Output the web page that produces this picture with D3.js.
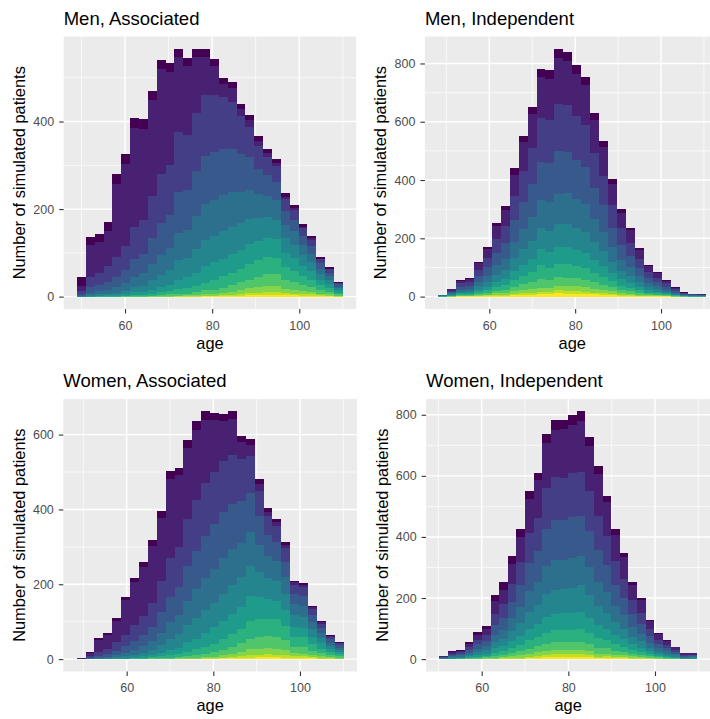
<!DOCTYPE html>
<html>
<head>
<meta charset="utf-8">
<script src="https://cdn.jsdelivr.net/npm/d3@7"></script>
<style>
  body { margin: 0; background: #ffffff; }
  svg { display: block; }
  text { font-family: "Liberation Sans", Arial, sans-serif; }
</style>
</head>
<body>
<svg id="chart" width="710" height="719"></svg>
<script>
// ---------------- DATA ----------------
// stacked groups, group 1 drawn on top, group 12 at the bottom
const groups = ["1","2","3","4","5","6","7","8","9","10","11","12"];
const panelTitles = ["Men, Associated", "Men, Independent", "Women, Associated", "Women, Independent"];
// histogram bins: 30 bins per panel, first bin left edge and bin width (years of age)
const binStarts = [48.98, 48.12, 48.46, 50.15];
const binWidths = [2.0345, 2.081, 2.054, 1.987];
const xTickValues = [60, 80, 100];
const yTickValues = [[0, 200, 400], [0, 200, 400, 600, 800], [0, 200, 400, 600], [0, 200, 400, 600, 800]];

// counts per group (rows = groups 1..12, columns = 30 age bins)
const menAssociated = [
  [20,18,18,20,22,22,22,22,20,20,20,19,19,19,18,16,15,14,12,11,10,9,9,8,7,6,5,4,3,2],
  [12,73,70,80,168,189,226,208,219,240,214,172,157,127,88,66,30,31,16,15,12,9,8,6,5,4,3,2,2,1],
  [7,24,29,36,45,55,74,77,97,112,114,135,126,134,138,129,118,107,87,70,52,42,36,27,22,17,14,9,7,3],
  [3,12,14,18,23,30,41,45,59,73,75,94,92,101,110,110,105,98,86,74,58,48,41,31,27,22,18,12,8,5],
  [1,5,7,10,13,17,24,28,37,45,51,63,63,76,83,83,82,80,70,66,55,48,45,31,30,23,20,13,10,4],
  [1,3,3,3,5,7,11,14,21,28,33,45,45,54,60,60,64,62,62,58,52,48,45,33,30,24,20,13,9,5],
  [0,1,1,2,3,4,7,7,9,12,15,21,25,30,37,41,40,45,45,46,44,44,42,33,30,23,19,12,9,5],
  [0,0,1,1,1,1,1,2,5,7,7,10,12,14,18,21,26,26,29,35,38,39,38,29,25,20,17,12,8,4],
  [0,0,0,0,0,1,2,2,1,2,3,5,4,7,9,10,12,16,19,20,24,27,27,20,18,15,12,7,6,3],
  [0,0,0,0,0,0,0,0,1,1,2,1,2,3,3,4,5,7,8,11,12,13,14,10,9,7,5,4,3,1],
  [0,0,0,0,0,0,0,0,0,0,0,1,1,1,1,1,2,2,4,5,6,7,6,5,4,3,3,2,1,1],
  [0,0,0,0,0,0,0,0,0,0,0,0,0,0,1,1,1,2,2,3,3,4,4,3,3,2,2,1,1,0]
];
const menIndependent = [
  [0,1,2,3,5,7,12,14,22,22,26,30,30,30,32,30,28,25,21,16,12,9,7,4,3,2,1,1,0,1],
  [1,5,10,11,22,30,45,57,72,99,117,140,142,160,150,142,139,114,98,73,54,43,30,19,15,10,6,3,2,2],
  [1,5,11,12,23,32,47,58,84,105,124,150,148,160,160,151,143,120,101,77,57,45,32,21,16,11,6,3,2,2],
  [1,4,10,11,20,29,43,53,75,94,111,130,133,148,143,135,128,107,91,68,51,40,28,18,14,10,5,2,2,1],
  [1,3,7,8,15,21,32,39,56,69,82,96,98,102,104,99,94,79,67,50,38,30,21,14,10,7,4,2,1,1],
  [1,3,5,6,11,16,24,30,42,52,62,74,74,80,79,75,72,60,51,38,29,22,16,10,8,5,3,1,1,1],
  [1,2,4,4,8,12,18,22,31,39,46,55,54,58,58,56,53,44,37,28,21,17,12,8,6,4,3,1,1,1],
  [1,1,3,3,6,9,13,16,24,29,35,46,40,46,48,42,40,33,28,21,16,13,9,6,4,3,2,1,1,1],
  [0,1,2,2,4,6,9,11,15,19,23,30,27,28,30,28,26,22,19,14,10,8,6,4,3,2,1,1,0,0],
  [0,1,1,1,3,3,5,6,9,11,13,16,15,16,17,16,15,13,10,8,6,5,3,2,2,1,1,0,0,0],
  [0,0,1,1,1,2,3,3,5,6,6,7,7,10,8,9,8,6,5,4,3,2,1,1,1,1,0,0,0,0],
  [0,0,1,1,2,2,3,3,5,6,7,8,9,12,10,10,9,8,6,6,3,3,2,1,1,1,0,0,0,0]
];
const womenAssociated = [
  [1,3,4,5,7,9,12,14,16,18,20,21,21,22,22,21,20,20,18,16,13,10,9,7,5,4,3,2,1,1],
  [1,9,32,36,58,92,116,130,153,168,212,191,190,188,170,138,106,96,44,31,18,12,11,9,7,7,5,4,3,2],
  [1,4,11,15,22,31,41,51,63,84,103,108,127,136,141,140,138,131,112,98,67,50,43,36,24,23,16,11,7,5],
  [0,2,5,7,12,17,24,29,39,55,67,75,94,102,113,120,122,120,113,103,77,57,49,41,28,27,19,14,9,6],
  [0,1,2,3,6,10,13,19,24,33,46,51,64,76,84,90,95,98,91,92,72,57,54,44,29,29,20,14,9,6],
  [0,1,1,2,3,4,7,9,13,21,30,36,45,56,61,65,74,77,80,81,67,58,53,45,31,29,21,14,9,7],
  [0,0,1,1,1,2,3,4,6,10,13,16,26,29,38,45,48,54,59,65,59,53,49,41,28,26,19,14,8,5],
  [0,0,0,0,1,1,1,2,3,4,7,9,11,15,19,22,29,33,37,49,49,46,47,39,25,25,17,12,8,6],
  [0,0,0,0,0,0,1,1,2,2,3,3,5,7,9,12,14,19,24,27,32,32,32,26,17,18,12,8,5,4],
  [0,0,0,0,0,0,0,0,0,1,1,1,2,3,3,3,6,9,11,16,15,16,16,14,9,8,6,5,3,2],
  [0,0,0,0,0,0,0,0,0,0,0,1,1,1,1,2,2,3,5,7,7,8,7,6,4,4,3,2,1,0],
  [0,0,0,0,0,0,0,0,0,0,0,0,0,0,1,1,2,2,3,4,5,5,5,4,3,3,2,1,1,1]
];
const womenIndependent = [
  [1,2,3,5,8,10,22,24,25,25,28,24,30,31,28,32,33,29,28,22,18,14,10,8,5,4,3,2,1,1],
  [2,5,6,10,17,21,40,48,65,84,110,122,148,156,160,160,166,147,137,110,87,70,51,40,26,17,12,8,4,4],
  [2,4,5,10,15,19,36,43,59,76,99,110,133,141,137,144,142,130,112,96,76,63,46,36,23,15,11,7,4,3],
  [2,4,5,9,14,18,33,40,54,70,91,100,122,129,131,132,131,120,103,88,70,57,42,33,21,14,10,7,3,3],
  [1,3,4,7,11,13,25,30,41,53,69,76,92,98,96,100,98,91,78,67,53,43,32,25,16,11,8,5,3,3],
  [1,3,3,5,9,11,20,24,33,42,55,61,74,78,80,80,87,73,63,53,42,35,25,20,13,8,6,4,2,2],
  [1,2,2,4,6,7,14,16,23,30,39,43,52,55,54,56,56,51,44,37,30,24,18,14,9,6,4,3,1,2],
  [1,1,1,2,4,5,10,12,16,21,28,31,37,39,41,40,42,36,31,27,21,17,13,10,7,4,3,2,1,1],
  [0,1,1,1,2,3,6,7,10,13,17,20,24,25,25,26,26,23,20,17,14,11,8,6,4,3,2,1,1,1],
  [0,0,1,1,1,1,3,4,5,7,9,11,13,14,14,14,14,13,9,9,7,6,5,4,2,1,1,1,0,0],
  [0,0,0,0,0,1,1,2,3,3,4,6,7,8,8,8,8,7,4,5,4,4,2,2,2,1,1,1,0,0],
  [0,0,0,1,1,1,1,1,2,2,3,5,6,8,8,8,8,6,4,4,3,3,2,2,1,1,0,0,0,0]
];
const panelData = [menAssociated, menIndependent, womenAssociated, womenIndependent];

// ---------------- STYLE / LAYOUT ----------------
const palette = ["#440154","#482173","#433E85","#38598C","#2D708E","#25858E",
                 "#1E9B8A","#2BB07F","#51C56A","#85D54A","#C2DF23","#FDE725"];
const panelLeft = [63.7, 424.9, 63.3, 426.1];
const panelTop = [36.5, 36.5, 399, 399];
const panelWidth = [292.5, 294.8, 293.7, 284.1];
const panelHeight = 272.5;

const svg = d3.select("#chart");
svg.append("rect").attr("width", 710).attr("height", 719).attr("fill", "#ffffff");

panelData.forEach((layers, p) => {
  const nBins = layers[0].length;
  const start = binStarts[p], bw = binWidths[p];
  const rows = d3.range(nBins).map(i => {
    const r = { bin: i };
    groups.forEach((g, k) => { r[g] = layers[k][i]; });
    return r;
  });
  const totals = rows.map(r => d3.sum(groups, g => r[g]));
  const maxT = d3.max(totals);
  const span = nBins * bw;
  const x = d3.scaleLinear()
    .domain([start - 0.05 * span, start + span + 0.05 * span])
    .range([0, panelWidth[p]]);
  const y = d3.scaleLinear()
    .domain([-0.05 * maxT, 1.05 * maxT])
    .range([panelHeight, 0]);

  const g = svg.append("g").attr("transform", `translate(${panelLeft[p]},${panelTop[p]})`);

  // panel background
  g.append("rect").attr("width", panelWidth[p]).attr("height", panelHeight).attr("fill", "#EBEBEB");

  // gridlines
  const yMaj = yTickValues[p];
  const yStep = yMaj[1] - yMaj[0];
  const yMin = yMaj.map(v => v + yStep / 2).concat([yMaj[0] - yStep / 2])
    .filter(v => v > y.domain()[0] && v < y.domain()[1]);
  const xStep = xTickValues[1] - xTickValues[0];
  const xMin = xTickValues.map(v => v - xStep / 2).concat([xTickValues[xTickValues.length - 1] + xStep / 2])
    .filter(v => v > x.domain()[0] && v < x.domain()[1]);

  g.selectAll(".ymin").data(yMin).join("line")
    .attr("x1", 0).attr("x2", panelWidth[p]).attr("y1", d => y(d)).attr("y2", d => y(d))
    .attr("stroke", "#ffffff").attr("stroke-width", 0.7);
  g.selectAll(".xmin").data(xMin).join("line")
    .attr("y1", 0).attr("y2", panelHeight).attr("x1", d => x(d)).attr("x2", d => x(d))
    .attr("stroke", "#ffffff").attr("stroke-width", 0.7);
  g.selectAll(".ymaj").data(yMaj).join("line")
    .attr("x1", 0).attr("x2", panelWidth[p]).attr("y1", d => y(d)).attr("y2", d => y(d))
    .attr("stroke", "#ffffff").attr("stroke-width", 1.4);
  g.selectAll(".xmaj").data(xTickValues).join("line")
    .attr("y1", 0).attr("y2", panelHeight).attr("x1", d => x(d)).attr("x2", d => x(d))
    .attr("stroke", "#ffffff").attr("stroke-width", 1.4);

  // stacked histogram (group 12 at the bottom, group 1 on top)
  const stack = d3.stack().keys(groups.slice().reverse());
  const series = stack(rows);
  const colorOf = d3.scaleOrdinal().domain(groups).range(palette);
  g.append("g").selectAll("g").data(series).join("g")
    .attr("fill", s => colorOf(s.key))
    .selectAll("rect").data(s => s.filter(d => d[1] > d[0])).join("rect")
    .attr("shape-rendering", "crispEdges")
    .attr("x", d => x(start + d.data.bin * bw))
    .attr("width", d => x(start + (d.data.bin + 1) * bw) - x(start + d.data.bin * bw))
    .attr("y", d => y(d[1]))
    .attr("height", d => y(d[0]) - y(d[1]));

  // axes
  const ya = g.append("g").call(d3.axisLeft(y).tickValues(yMaj).tickSize(4.5).tickPadding(5).tickFormat(d3.format("d")));
  const xa = g.append("g").attr("transform", `translate(0,${panelHeight})`)
    .call(d3.axisBottom(x).tickValues(xTickValues).tickSize(4.5).tickPadding(7.6).tickFormat(d3.format("d")));
  [ya, xa].forEach(a => {
    a.select(".domain").remove();
    a.selectAll(".tick line").attr("stroke", "#333333").attr("stroke-width", 1.1);
    a.selectAll(".tick text").attr("fill", "#4D4D4D").attr("font-size", 12.5)
      .attr("font-family", '"Liberation Sans", Arial, sans-serif');
  });

  // titles
  g.append("text").attr("x", 0).attr("y", -12).attr("font-size", 18.5).attr("fill", "#000000")
    .text(panelTitles[p]);
  g.append("text").attr("x", panelWidth[p] / 2).attr("y", panelHeight + 39.5)
    .attr("text-anchor", "middle").attr("font-size", 16.4).attr("fill", "#000000").text("age");
  g.append("text")
    .attr("transform", `translate(-38.5,${panelHeight / 2}) rotate(-90)`)
    .attr("text-anchor", "middle").attr("font-size", 16.4).attr("fill", "#000000")
    .text("Number of simulated patients");
});
</script>
</body>
</html>
